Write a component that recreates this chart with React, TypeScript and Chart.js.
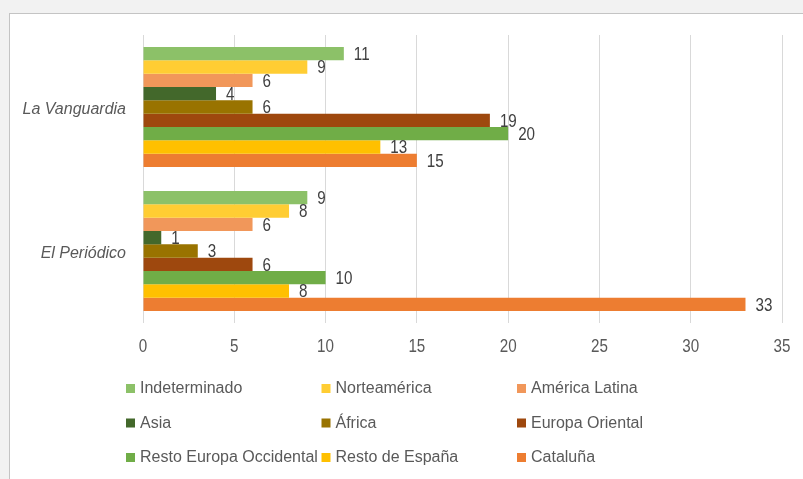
import React, { useEffect, useRef } from "react";
import { Chart, registerables } from "chart.js";

Chart.register(...registerables);

const categories = ["La Vanguardia", "El Periódico"];
const seriesNames = [
  "Indeterminado",
  "Norteamérica",
  "América Latina",
  "Asia",
  "África",
  "Europa Oriental",
  "Resto Europa Occidental",
  "Resto de España",
  "Cataluña",
];
const indeterminado = [11, 9];
const norteamerica = [9, 8];
const americaLatina = [6, 6];
const asia = [4, 1];
const africa = [6, 3];
const europaOriental = [19, 6];
const restoEuropaOccidental = [20, 10];
const restoEspana = [13, 8];
const cataluna = [15, 33];
const seriesColors = [
  "#8CC168",
  "#FFCD33",
  "#F1975A",
  "#43682B",
  "#997300",
  "#9E480E",
  "#70AD47",
  "#FFC000",
  "#ED7D31",
];
const xTicks = { min: 0, max: 35, step: 5 };

const seriesValues = [
  indeterminado,
  norteamerica,
  americaLatina,
  asia,
  africa,
  europaOriental,
  restoEuropaOccidental,
  restoEspana,
  cataluna,
];

const NARROW = 0.8;

function narrowText(ctx: any, text: string, x: number, y: number, align: string) {
  ctx.save();
  ctx.translate(x, y);
  ctx.scale(NARROW, 1);
  ctx.textAlign = align;
  ctx.fillText(text, 0, 0);
  ctx.restore();
}

const dataLabelPlugin = {
  id: "dataLabels",
  afterDatasetsDraw(chart: any) {
    const ctx = chart.ctx;
    ctx.save();
    ctx.font = "19px 'Liberation Sans', Arial, sans-serif";
    ctx.fillStyle = "#404040";
    ctx.textBaseline = "middle";
    chart.data.datasets.forEach((ds: any, i: number) => {
      const meta = chart.getDatasetMeta(i);
      meta.data.forEach((el: any, j: number) => {
        narrowText(ctx, String(ds.data[j]), el.x + 10, el.y + 1, "left");
      });
    });
    // x-axis tick labels, narrow
    const xs = chart.scales.x;
    ctx.fillStyle = "#595959";
    xs.ticks.forEach((t: any) => {
      narrowText(ctx, String(t.value), xs.getPixelForValue(t.value), chart.chartArea.bottom + 24, "center");
    });
    ctx.restore();
  },
};

const legendPlugin = {
  id: "gridLegend",
  afterDraw(chart: any) {
    const ctx = chart.ctx;
    ctx.save();
    ctx.font = "16px 'Liberation Sans', Arial, sans-serif";
    ctx.textAlign = "left";
    ctx.textBaseline = "middle";
    chart.data.datasets.forEach((ds: any, i: number) => {
      const col = i % 3;
      const row = Math.floor(i / 3);
      const x = 126 + col * 195.5;
      const y = 389 + row * 34.5;
      ctx.fillStyle = ds.backgroundColor;
      ctx.fillRect(x, y - 5, 9, 9);
      ctx.fillStyle = "#595959";
      ctx.fillText(ds.label, x + 14, y);
    });
    ctx.restore();
  },
};

export default function App() {
  const ref = useRef<HTMLCanvasElement>(null);
  useEffect(() => {
    if (!ref.current) return;
    const chart = new Chart(ref.current, {
      type: "bar",
      data: {
        labels: categories,
        datasets: seriesNames.map((name, i) => ({
          label: name,
          data: seriesValues[i],
          backgroundColor: seriesColors[i],
          borderWidth: 0,
          barPercentage: 1,
          categoryPercentage: 0.833,
        })),
      },
      options: {
        indexAxis: "y",
        animation: false,
        responsive: false,
        maintainAspectRatio: false,
        layout: { padding: { left: 0, right: 21, top: 35, bottom: 116 } },
        plugins: {
          legend: { display: false },
          tooltip: { enabled: false },
          title: { display: false },
        },
        scales: {
          x: {
            min: xTicks.min,
            max: xTicks.max,
            ticks: {
              stepSize: xTicks.step,
              display: false,
            },
            grid: { color: "#d9d9d9", lineWidth: 1, drawTicks: false },
            border: { display: false },
            afterFit: (s: any) => {
              s.height = 40;
            },
          },
          y: {
            ticks: {
              color: "#595959",
              padding: 17,
              labelOffset: 3,
              font: { family: "'Liberation Sans', Arial, sans-serif", size: 16, style: "italic" },
            },
            grid: { display: false, drawTicks: false },
            border: { display: false },
            afterFit: (s: any) => {
              s.width = 143;
            },
          },
        },
      },
      plugins: [dataLabelPlugin, legendPlugin],
    });
    return () => chart.destroy();
  }, []);

  return (
    <div
      style={{
        position: "absolute",
        left: 0,
        top: 0,
        width: 803,
        height: 479,
        overflow: "hidden",
        background: "#f2f2f2",
      }}
    >
      <div
        style={{
          position: "absolute",
          left: 9,
          top: 13,
          width: 830,
          height: 500,
          background: "#ffffff",
          border: "1px solid #c4c4c4",
          boxSizing: "border-box",
        }}
      />
      <canvas
        ref={ref}
        width={803}
        height={479}
        style={{ position: "absolute", left: 0, top: 0, width: 803, height: 479 }}
      />
    </div>
  );
}
